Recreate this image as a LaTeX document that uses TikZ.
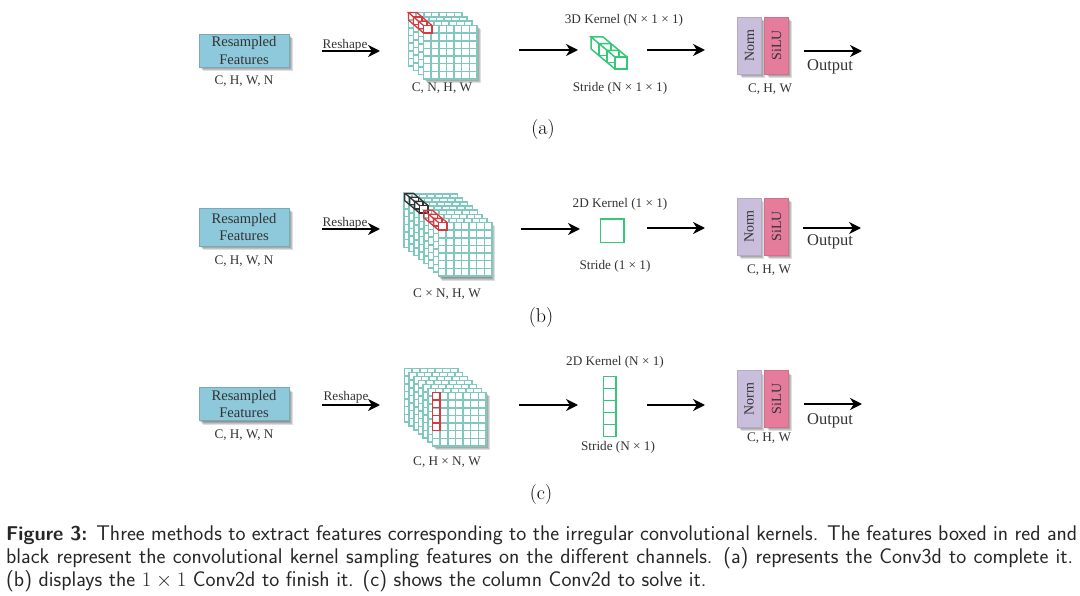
\documentclass[tikz,border=0pt]{standalone}
\usepackage{amsmath,amssymb}
\usepackage{fontspec}
\usepackage{xcolor}
\usetikzlibrary{arrows.meta}
\newfontfamily\figfont{Liberation Serif}
\definecolor{featblue}{HTML}{8DC9DB}
\definecolor{normlilac}{HTML}{C9BEDB}
\definecolor{silupink}{HTML}{E67C9C}
\definecolor{gridteal}{HTML}{7FC8BF}
\definecolor{kerngreen}{HTML}{35C878}
\definecolor{cubered}{HTML}{D63A3F}
\definecolor{cubeblack}{HTML}{333333}
\definecolor{figtext}{HTML}{333333}
\newcommand{\softshadow}[4]{%
  \foreach \s in {0,1,2,3} {
    \fill[black,opacity=0.13] (#1+\s,#2+\s) rectangle (#3+\s,#4+\s);
  }
}
\newcommand{\gridstack}[5]{%
  \foreach \l in {#3,...,0} {
    \begin{scope}[shift={({#1-\l*#4},{#2-\l*#5})}]
      \filldraw[gridline,fill=white] (0,0) rectangle (53.5,53.5);
      \foreach \c in {1,...,6} {
        \draw[gridline] (\c*7.643,0) -- (\c*7.643,53.5);
        \draw[gridline] (0,\c*7.643) -- (53.5,\c*7.643);
      }
    \end{scope}
  }
}
\newcommand{\kernelcubes}[8]{%
  \foreach \i in {#7,...,0} {
    \begin{scope}[shift={({#1-\i*#5},{#2-\i*#6})}]
      \filldraw[#8,fill=white] (0,0) rectangle (#3,#4);
      \draw[#8] (0,0) -- (-#5,-#6) -- (#3-#5,-#6) -- (#3,0);
      \draw[#8] (-#5,-#6) -- (-#5,#4-#6) -- (0,#4);
    \end{scope}
  }
}
\tikzset{
  figlabel/.style={font=\figfont\fontsize{13.2}{15}\selectfont,text=figtext,inner sep=0pt},
  featbox/.style={figlabel,draw=featblue!85!black,fill=featblue,minimum width=90,minimum height=33,align=center,
    font=\figfont\fontsize{14.6}{17.5}\selectfont},
  normbox/.style={figlabel,fill=normlilac,minimum width=57,minimum height=24,rotate=90,
    draw=normlilac!90!black,font=\figfont\fontsize{14}{15}\selectfont},
  slubox/.style={normbox,fill=silupink,draw=silupink!90!black},
  outlabel/.style={figlabel,font=\figfont\fontsize{16.5}{18}\selectfont},
  partlabel/.style={inner sep=0pt,text=black,font=\fontsize{20}{23}\selectfont},
  gridline/.style={gridteal,line width=1.5pt},
  flow/.style={black,line width=2pt,-{Stealth[length=12pt,width=12pt]}},
  kernline/.style={kerngreen,line width=1.5pt},
  redcube/.style={cubered,line width=1.3pt},
  blackcube/.style={cubeblack,line width=1.3pt}
}
\begin{document}
\begin{tikzpicture}[x=1pt,y=-1pt]
\useasboundingbox (0,0) rectangle (1080,596);
% (a)
\softshadow{200}{35}{290}{68}
\node[featbox] (featA) at (244,50.5) {Resampled\\Features};
\node[figlabel] (dimA) at (244,81) {C, H, W, N};
\softshadow{424}{26}{478}{80}
\gridstack{423.5}{25.5}{3}{5}{4.3}
\kernelcubes{423.5}{25.5}{8.5}{7.5}{5}{4.3}{2}{redcube}
\coordinate (reshapeAs) at (322,51);
\coordinate (reshapeAe) at (380,51);
\draw[flow] (reshapeAs) -- (reshapeAe);
\node[figlabel] (reshapeA) at (345,45) {Reshape};
\node[figlabel] (gridA) at (442,88) {C, N, H, W};
\coordinate (kernAs) at (519,50);
\coordinate (kernAe) at (578,50);
\draw[flow] (kernAs) -- (kernAe);
\node[figlabel] (kernA) at (624,20) {3D Kernel (N × 1 × 1)};
\kernelcubes{615}{57}{12}{12}{8}{6.7}{2}{kernline}
\node[figlabel] (strideA) at (620,88) {Stride (N × 1 × 1)};
\coordinate (normAs) at (647,50);
\coordinate (normAe) at (705,50);
\draw[flow] (normAs) -- (normAe);
\softshadow{739}{18}{762}{75}
\softshadow{766}{18}{789}{75}
\node[normbox] (normA) at (749.5,45.5) {Norm};
\node[slubox] (siluA) at (776.5,45.5) {SiLU};
\node[figlabel] (chwA) at (770,89) {C, H, W};
\coordinate (outAs) at (804,51);
\coordinate (outAe) at (862,51);
\draw[flow] (outAs) -- (outAe);
\node[outlabel] (outA) at (830,67) {Output};
\node[partlabel] (partA) at (543,129.5) {(a)};
% (b)
\softshadow{200}{209}{290}{247}
\node[featbox,minimum height=38] (featB) at (244,227) {Resampled\\Features};
\node[figlabel] (dimB) at (244,261) {C, H, W, N};
\softshadow{439}{223}{492}{278}
\gridstack{438.5}{222.5}{7}{4.9}{4.1}
\kernelcubes{419.5}{205.5}{8.5}{7.5}{4.9}{4.1}{2}{blackcube}
\kernelcubes{438.5}{222.5}{8.5}{7.5}{4.9}{4.1}{2}{redcube}
\coordinate (reshapeBs) at (322,229);
\coordinate (reshapeBe) at (380,229);
\draw[flow] (reshapeBs) -- (reshapeBe);
\node[figlabel] (reshapeB) at (345,223) {Reshape};
\node[figlabel] (gridB) at (447,294) {C × N, H, W};
\coordinate (kernBs) at (521,229);
\coordinate (kernBe) at (580,229);
\draw[flow] (kernBs) -- (kernBe);
\node[figlabel] (kernB) at (620,204) {2D Kernel (1 × 1)};
\node[kernline,draw,minimum size=23.5,inner sep=0pt] (cellB) at (612.3,230.8) {};
\node[figlabel] (strideB) at (615,266) {Stride (1 × 1)};
\coordinate (normBs) at (647,228);
\coordinate (normBe) at (705,228);
\draw[flow] (normBs) -- (normBe);
\softshadow{738}{199}{761}{256}
\softshadow{766}{199}{789}{256}
\node[normbox] (normB) at (749,226.5) {Norm};
\node[slubox] (siluB) at (776.5,226.5) {SiLU};
\node[figlabel] (chwB) at (769,270) {C, H, W};
\coordinate (outBs) at (803,228);
\coordinate (outBe) at (861,228);
\draw[flow] (outBs) -- (outBe);
\node[outlabel] (outB) at (830,242) {Output};
\node[partlabel] (partB) at (541,317.5) {(b)};
% (c)
\softshadow{200}{389}{290}{422}
\node[featbox] (featC) at (244,404) {Resampled\\Features};
\node[figlabel] (dimC) at (244,435) {C, H, W, N};
\softshadow{433}{393}{487}{447}
\gridstack{432.5}{392.5}{6}{4.67}{4}
\foreach \r in {0,...,4} {
  \draw[redcube] (432.5,392.5+\r*7.643) rectangle (440.1,392.5+\r*7.643+7.643);
}
\coordinate (reshapeCs) at (322,405);
\coordinate (reshapeCe) at (380,405);
\draw[flow] (reshapeCs) -- (reshapeCe);
\node[figlabel] (reshapeC) at (346,397) {Reshape};
\node[figlabel] (gridC) at (447,462) {C, H × N, W};
\coordinate (kernCs) at (519,405);
\coordinate (kernCe) at (578,405);
\draw[flow] (kernCs) -- (kernCe);
\node[figlabel] (kernC) at (615,362) {2D Kernel (N × 1)};
\foreach \r in {0,...,4} {
  \draw[kernline] (603.3,376.3+\r*12) rectangle (616,376.3+\r*12+12);
}
\node[figlabel] (strideC) at (618,447) {Stride (N × 1)};
\coordinate (normCs) at (647,405);
\coordinate (normCe) at (705,405);
\draw[flow] (normCs) -- (normCe);
\softshadow{738}{372}{761}{428}
\softshadow{766}{372}{789}{428}
\node[normbox] (normC) at (749,399) {Norm};
\node[slubox] (siluC) at (776.5,399) {SiLU};
\node[figlabel] (chwC) at (769,438) {C, H, W};
\coordinate (outCs) at (804,404);
\coordinate (outCe) at (862,404);
\draw[flow] (outCs) -- (outCe);
\node[outlabel] (outC) at (830,421) {Output};
\node[partlabel] (partC) at (541,494.5) {(c)};
% caption
\node[anchor=north west,inner sep=0pt,align=left,text=black!85,font=\sffamily\fontsize{21.25}{23}\selectfont] (caption) at (6,525.5)
  {\makebox[1071pt][s]{{\fontsize{20}{23}\selectfont\textbf{Figure 3:}} Three methods to extract features corresponding to the irregular convolutional kernels. The features boxed in red and}\\
   \makebox[1067pt][s]{black represent the convolutional kernel sampling features on the different channels. (a) represents the Conv3d to complete it.}\\
   (b) displays the $1\times1$ Conv2d to finish it. (c) shows the column Conv2d to solve it.};
\end{tikzpicture}
\end{document}
